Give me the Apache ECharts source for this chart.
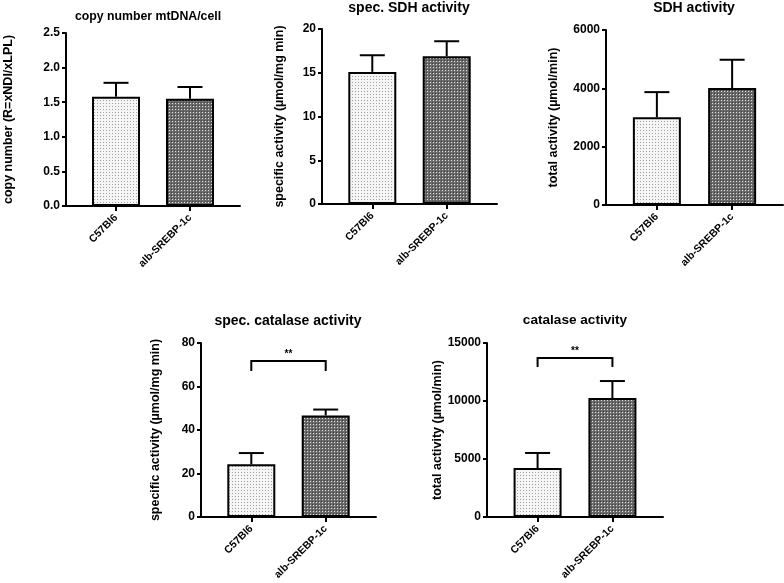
<!DOCTYPE html>
<html>
<head>
<meta charset="utf-8">
<script src="https://cdn.jsdelivr.net/npm/echarts@6/dist/echarts.min.js"></script>
<style>
  html, body { margin: 0; padding: 0; background: #fff; }
  #chart { width: 784px; height: 583px; }
</style>
</head>
<body>
<div id="chart"></div>
<script>
/* five bar panels, C57Bl6 vs alb-SREBP-1c, mean + upper SD whisker */
const groups = ['C57Bl6', 'alb-SREBP-1c'];

const mtdnaMean = [1.58, 1.55];
const mtdnaUpper = [1.78, 1.72];
const sdhSpecMean = [15.1, 16.9];
const sdhSpecUpper = [17.0, 18.6];
const sdhTotalMean = [3010, 4010];
const sdhTotalUpper = [3870, 4980];
const catSpecMean = [24.2, 46.7];
const catSpecUpper = [29.4, 49.4];
const catTotalMean = [4220, 10250];
const catTotalUpper = [5520, 11720];

// [top of bracket, end of legs]
const catSpecBracket = [71.7, 67.1];
const catTotalBracket = [13700, 12930];

const titles = ['copy number mtDNA/cell', 'spec. SDH activity', 'SDH activity', 'spec. catalase activity', 'catalase activity'];
const yNames = ['copy number (R=xNDI/xLPL)', 'specific activity (µmol/mg min)', 'total activity (µmol/min)', 'specific activity (µmol/mg min)', 'total activity (µmol/min)'];
const yMax = [2.5, 20, 6000, 80, 15000];
const yStep = [0.5, 5, 2000, 20, 5000];

const FONT = '"Liberation Sans", Arial, sans-serif';

/* ── fill patterns (Prism-like) ─────────────────────── */
function tile(bg, dots) {
  const c = document.createElement('canvas');
  c.width = 3; c.height = 3;
  const g = c.getContext('2d');
  g.fillStyle = bg; g.fillRect(0, 0, 3, 3);
  dots.forEach(([x, y, col]) => { g.fillStyle = col; g.fillRect(x, y, 1, 1); });
  return { image: c, repeat: 'repeat' };
}
const lightFill = tile('#f5f5f5', [[1, 1, '#a0a0a0']]);
const darkFill = tile('#6a6a6a', [[1, 1, '#e0e0e0'], [0, 0, '#404040']]);
const fills = [lightFill, darkFill];

/* ── layout of each panel: left, top, width, height ─── */
const boxes = [
  [66, 33, 174, 173],
  [322, 29, 175, 175],
  [606, 30, 177, 175],
  [201, 343, 175, 174],
  [487, 343, 176, 174]
];
const nameGaps = [51, 36, 46, 39, 38];
const panels = [
  [mtdnaMean, mtdnaUpper, null],
  [sdhSpecMean, sdhSpecUpper, null],
  [sdhTotalMean, sdhTotalUpper, null],
  [catSpecMean, catSpecUpper, catSpecBracket],
  [catTotalMean, catTotalUpper, catTotalBracket]
];

const axisLine = { show: true, onZero: false, lineStyle: { color: '#000', width: 2 } };
const axisTick = { show: true, length: 4, lineStyle: { color: '#000', width: 2 } };
const labelStyle = { color: '#000', fontFamily: FONT, fontWeight: 'bold', fontSize: 11 };

const grid = [], xAxis = [], yAxis = [], series = [], graphic = [];

boxes.forEach(([l, t, w, h], i) => {
  grid.push({ left: l, top: t, width: w, height: h, containLabel: false });

  // bars sit at 0 and 1; equal gaps left, between and right
  xAxis.push({
    type: 'value', gridIndex: i, min: -0.676, max: 1.676,
    axisLine, splitLine: { show: false },
    axisTick: { ...axisTick, length: 5, customValues: [0, 1] },
    axisLabel: { ...labelStyle, fontSize: 10.5, rotate: 45, margin: 10, customValues: [0, 1], formatter: (v) => groups[Math.round(v)] }
  });
  yAxis.push({
    type: 'value', gridIndex: i, min: 0, max: yMax[i], interval: yStep[i],
    axisLine, axisTick, splitLine: { show: false },
    axisLabel: { ...labelStyle, fontSize: 12, margin: 6, formatter: (v) => (i === 0 ? v.toFixed(1) : String(v)) },
    name: yNames[i], nameLocation: 'middle', nameRotate: 90, nameGap: nameGaps[i],
    nameTextStyle: { color: '#000', fontFamily: FONT, fontWeight: 'bold', fontSize: 12.5 }
  });

  const [mean, upper, bracket] = panels[i];

  series.push({
    type: 'bar', xAxisIndex: i, yAxisIndex: i, barWidth: 48,
    data: mean.map((v, k) => ({ value: [k, v], itemStyle: { color: fills[k], borderColor: '#000', borderWidth: 2 } })),
    silent: true
  });

  series.push({
    type: 'custom', xAxisIndex: i, yAxisIndex: i, z: 3,
    data: mean.map((v, k) => [k, v, upper[k]]),
    encode: { x: 0, y: [1, 2] },
    renderItem: (params, api) => {
      const p0 = api.coord([api.value(0), api.value(1)]);
      const p1 = api.coord([api.value(0), api.value(2)]);
      const line = (x1, y1, x2, y2) => ({ type: 'line', shape: { x1, y1, x2, y2 }, style: { stroke: '#000', lineWidth: 2 } });
      return { type: 'group', children: [line(p0[0], p0[1], p1[0], p1[1]), line(p1[0] - 12.5, p1[1], p1[0] + 12.5, p1[1])] };
    }
  });

  if (bracket) {
    series.push({
      type: 'custom', xAxisIndex: i, yAxisIndex: i, z: 3,
      data: [[0, 1, bracket[0], bracket[1]]],
      encode: { x: [0, 1], y: [2, 3] },
      renderItem: (params, api) => {
        const a = api.coord([api.value(0), api.value(2)]);
        const b = api.coord([api.value(1), api.value(2)]);
        const legY = api.coord([api.value(0), api.value(3)])[1];
        return {
          type: 'group', children: [
            { type: 'polyline', shape: { points: [[a[0], legY], [a[0], a[1]], [b[0], b[1]], [b[0], legY]] }, style: { stroke: '#000', lineWidth: 2, fill: null } },
            { type: 'text', x: (a[0] + b[0]) / 2, y: a[1] - 7, style: { text: '**', fill: '#000', font: 'bold 10px ' + FONT, textAlign: 'center', textVerticalAlign: 'middle' } }
          ]
        };
      }
    });
  }
});

/* ── panel titles ───────────────────────────────────── */
const titlePos = [[148, 17], [409, 8], [694, 8], [288, 321], [575, 320]];
const titleSize = [12.3, 14, 14, 14, 13.6];
titles.forEach((txt, i) => {
  graphic.push({
    type: 'text', x: titlePos[i][0], y: titlePos[i][1],
    style: { text: txt, fill: '#000', font: `bold ${titleSize[i]}px ${FONT}`, textAlign: 'center', textVerticalAlign: 'middle' }
  });
});

const chart = echarts.init(document.getElementById('chart'), null, { renderer: 'canvas' });
chart.setOption({ animation: false, backgroundColor: '#fff', grid, xAxis, yAxis, series, graphic });
</script>
</body>
</html>
